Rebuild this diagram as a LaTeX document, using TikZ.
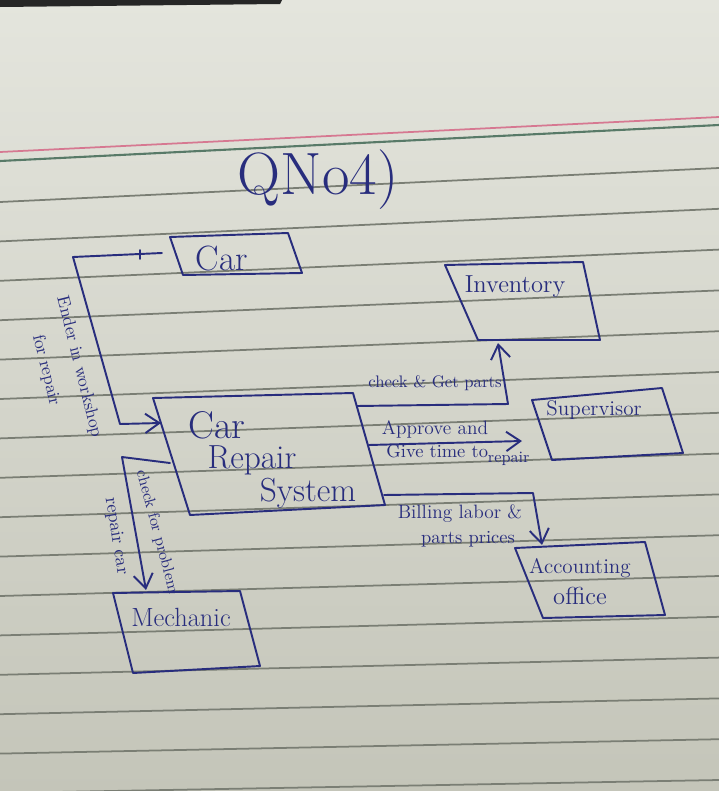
\documentclass[tikz,border=0pt]{standalone}
\usepackage{fontspec}
\usetikzlibrary{arrows.meta}
\definecolor{ink}{RGB}{40,45,125}
\definecolor{paper}{RGB}{228,229,221}
\definecolor{paperdark}{RGB}{196,197,185}
\definecolor{rule}{RGB}{122,126,116}
\definecolor{margin}{RGB}{214,120,145}
\definecolor{topline}{RGB}{88,122,104}
\newcommand{\fs}[1]{\fontsize{#1}{#1}\selectfont}

\begin{document}
\begin{tikzpicture}
        [x=0.02cm,y=-0.02cm,
         pen/.style={draw=ink,line width=1.1pt,line join=round,line cap=round},
         flow/.style={pen,-{Straight Barb[length=8pt,width=11pt]}},
         word/.style={text=ink,inner sep=0pt}]
        \useasboundingbox (0,0) rectangle (719,791);
        \shade[top color=paper,bottom color=paperdark] (0,0) rectangle (719,791);
        \fill[black!85] (0,0) -- (282,0) -- (280,4) -- (0,7) -- cycle;

        \foreach \k in {0,...,15}
        {\draw[rule,line width=1pt] (0,202+39.4*\k) -- (719,168+40.8*\k);}
        \draw[margin,line width=1pt] (0,152) -- (719,117);
        \draw[topline,line width=1.2pt] (0,161) -- (719,125);

        \node[word,font=\fs{34}] (title) at (318,180) {QNo4)};

        \draw[pen] (170,237) -- (288,233) -- (302,273) -- (183,275) -- cycle;
        \node[word,font=\fs{20}] (car) at (222,258) {Car};

        \draw[pen] (153,398) -- (353,393) -- (385,505) -- (190,515) -- cycle;
        \node[word,font=\fs{22}] (crs1) at (217,425) {Car};
        \node[word,font=\fs{19}] (crs2) at (252,460) {Repair};
        \node[word,font=\fs{19}] (crs3) at (308,493) {System};

        \draw[pen] (445,265) -- (583,262) -- (600,340) -- (478,340) -- cycle;
        \node[word,font=\fs{14}] (inv) at (515,287) {Inventory};

        \draw[pen] (532,400) -- (662,388) -- (683,453) -- (552,460) -- cycle;
        \node[word,font=\fs{12}] (sup) at (594,410) {Supervisor};

        \draw[pen] (515,548) -- (645,542) -- (665,615) -- (543,618) -- cycle;
        \node[word,font=\fs{12}] (acc1) at (580,568) {Accounting};
        \node[word,font=\fs{14}] (acc2) at (580,596) {office};

        \draw[pen] (113,593) -- (240,591) -- (260,666) -- (133,673) -- cycle;
        \node[word,font=\fs{15}] (mech) at (181,617) {Mechanic};

        \coordinate (car-w) at (162,253);
        \coordinate (crs-w1) at (161,423);
        \coordinate (crs-w2) at (170,463);
        \coordinate (crs-e1) at (357,406);
        \coordinate (crs-e2) at (369,445);
        \coordinate (crs-e3) at (384,495);
        \coordinate (inv-s) at (498,343);
        \coordinate (sup-w) at (522,441);
        \coordinate (acc-n) at (542,545);
        \coordinate (mech-n) at (146,590);

        \draw[flow] (car-w) -- (73,257) -- (120,424) -- (crs-w1);
        \draw[pen] (140,250) -- (140,259);
        \draw[flow] (crs-w2) -- (122,457) -- (mech-n);
        \draw[flow] (crs-e1) -- (508,404) -- (inv-s);
        \draw[flow] (crs-e2) -- (sup-w);
        \draw[flow] (crs-e3) -- (533,493) -- (acc-n);

        \node[word,font=\fs{10},rotate=-76] (l1a) at (79,367) {Ender in workshop};
        \node[word,font=\fs{10},rotate=-76] (l1b) at (46,370) {for repair};
        \node[word,font=\fs{9.5}] (l2) at (435,383) {check \& Get parts};
        \node[word,font=\fs{11}] (l3a) at (435,429) {Approve and};
        \node[word,font=\fs{10.5}] (l3b) at (458,455) {Give time to\raisebox{-3pt}{\fs{9}repair}};
        \node[word,font=\fs{11}] (l4a) at (460,514) {Billing labor \&};
        \node[word,font=\fs{10.5}] (l4b) at (468,539) {parts prices};
        \node[word,font=\fs{9},rotate=-75] (l5a) at (157,532) {check for problem};
        \node[word,font=\fs{10.5},rotate=-81] (l5b) at (116,536) {repair car};
\end{tikzpicture}
\end{document}
